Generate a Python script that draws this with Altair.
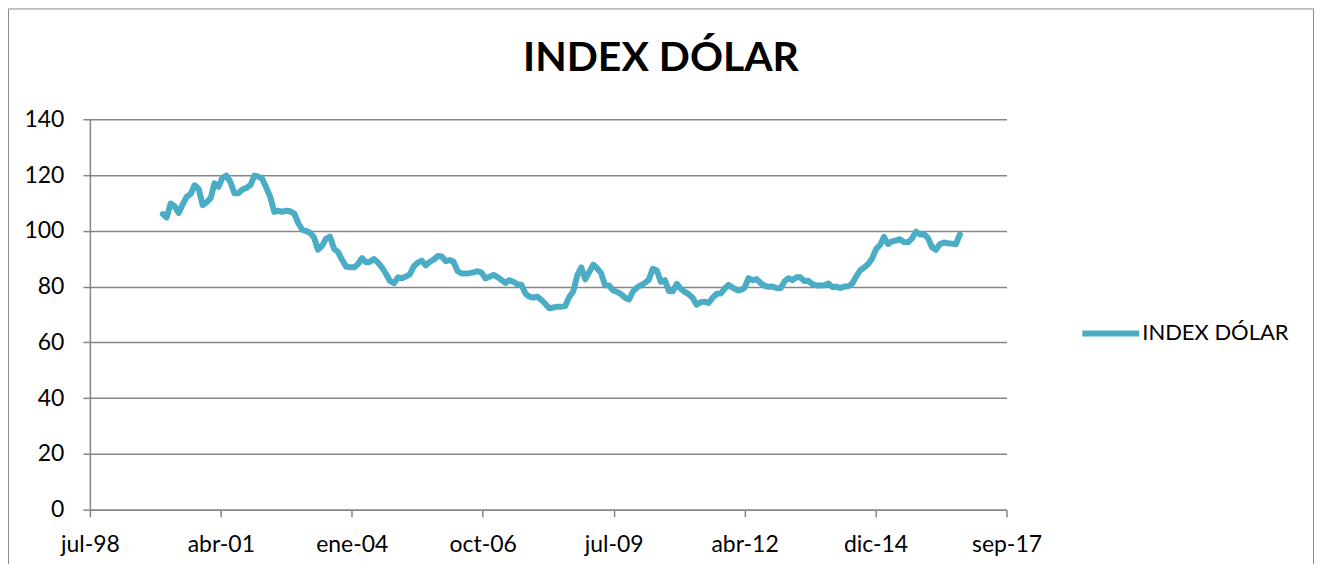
import altair as alt
import pandas as pd

# Monthly values of the index, from Feb-2000 onwards
START_MONTH = "2000-02-01"
values = [
    106.0, 104.8, 109.8, 108.8, 106.4, 109.4, 112.2, 113.2, 116.3, 115.0,
    109.2, 110.2, 111.8, 117.0, 115.8, 119.0, 119.8, 117.5, 113.5, 113.5,
    114.8, 115.4, 116.4, 119.8, 119.4, 118.6, 115.5, 112.2, 106.8, 107.2,
    106.8, 107.2, 107.0, 106.2, 102.8, 100.4, 99.9, 99.3, 97.6, 93.2,
    94.6, 97.1, 97.9, 93.5, 92.4, 89.6, 87.2, 86.9, 86.9, 88.0,
    90.2, 88.7, 88.9, 89.9, 88.6, 86.8, 84.6, 82.0, 81.2, 83.3,
    83.0, 83.6, 84.4, 87.2, 88.6, 89.3, 87.6, 88.9, 89.7, 91.0,
    90.8, 89.1, 89.5, 88.9, 85.6, 84.7, 84.7, 84.8, 85.1, 85.5,
    85.0, 82.9, 83.5, 84.2, 83.4, 82.4, 81.3, 82.3, 81.7, 80.8,
    80.7, 77.5, 76.4, 76.0, 76.4, 75.2, 73.8, 72.2, 72.5, 72.8,
    72.8, 73.0, 76.3, 78.3, 84.0, 86.9, 82.6, 85.2, 87.9, 86.6,
    84.8, 80.5, 80.4, 78.6, 78.1, 77.3, 76.0, 75.4, 78.3, 79.7,
    80.5, 81.3, 82.5, 86.4, 85.8, 81.7, 82.3, 78.4, 78.3, 81.0,
    79.2, 78.1, 77.2, 76.0, 73.5, 74.4, 74.6, 74.1, 76.0, 77.4,
    77.5, 79.3, 80.6, 79.6, 78.8, 78.7, 79.5, 83.0, 82.3, 82.7,
    81.3, 80.3, 79.9, 80.0, 79.5, 79.4, 81.9, 83.0, 82.3, 83.3,
    83.3, 82.0, 82.1, 80.8, 80.4, 80.4, 80.5, 81.1, 79.8, 80.0,
    79.5, 80.0, 80.1, 81.0, 83.6, 85.8, 86.9, 88.1, 90.1, 93.5,
    95.0, 97.8, 95.3, 96.2, 96.5, 97.0, 96.0, 95.9, 97.2, 99.7,
    98.7, 98.8, 97.4, 94.2, 93.2, 95.2, 95.8, 95.5, 95.4, 95.2,
    98.7,
]
SERIES = "INDEX DÓLAR"
Y_TICKS = [0, 20, 40, 60, 80, 100, 120, 140]
# x-axis ticks (every 1000 days, as in the original spreadsheet axis)
X_TICKS = [(1998, 7, 24), (2001, 4, 19), (2004, 1, 14), (2006, 10, 10),
           (2009, 7, 6), (2012, 4, 1), (2014, 12, 27), (2017, 9, 22)]
MONTHS_ES = ["ene", "feb", "mar", "abr", "may", "jun",
             "jul", "ago", "sep", "oct", "nov", "dic"]

df = pd.DataFrame({
    "fecha": pd.date_range(START_MONTH, periods=len(values), freq="MS"),
    "valor": values,
    "serie": SERIES,
})

W, H = 918, 391
PAD_L, PAD_T, PAD_R, PAD_B = 82, 111, 309, 54
GRID = "#868686"
LINE = "#4BACC6"
FONT = "Lato"

tick_dt = [alt.DateTime(year=y, month=m, date=d) for (y, m, d) in X_TICKS]
month_arr = "[" + ",".join("'%s'" % m for m in MONTHS_ES) + "]"

line = alt.Chart(df).mark_line(
    strokeWidth=6, strokeCap="round", strokeJoin="round"
).encode(
    x=alt.X("fecha:T",
            scale=alt.Scale(domain=[tick_dt[0], tick_dt[-1]], nice=False),
            axis=alt.Axis(values=tick_dt, title=None, grid=False,
                          labelExpr=month_arr + "[month(datum.value)] + '-' + timeFormat(datum.value, '%y')",
                          labelFlush=False, labelOverlap=False,
                          tickSize=7, labelPadding=17)),
    y=alt.Y("valor:Q",
            scale=alt.Scale(domain=[0, 140], nice=False, zero=True),
            axis=alt.Axis(values=Y_TICKS, title=None, grid=True,
                          tickSize=7, labelPadding=19)),
    color=alt.Color("serie:N",
                    scale=alt.Scale(range=[LINE]),
                    legend=alt.Legend(title=None, orient="none",
                                      legendX=991, legendY=183,
                                      symbolType="stroke", symbolSize=3249,
                                      symbolStrokeWidth=6,
                                      labelFont=FONT, labelFontSize=22,
                                      labelColor="black", labelOffset=0,
                                      padding=0, symbolOffset=0)),
)

frame = alt.Chart(alt.Data(values=[{"a": 1}])).mark_rect(
    fill="transparent", stroke="#8a8a8a", strokeWidth=1
).encode(
    x=alt.value(-PAD_L + 0.5), x2=alt.value(W + PAD_R - 1.5),
    y=alt.value(-PAD_T + 0.5), y2=alt.value(H + PAD_B + 40),
)

chart = alt.layer(frame, line).properties(
    width=W, height=H,
    padding={"left": PAD_L, "top": PAD_T, "right": PAD_R, "bottom": PAD_B},
    autosize=alt.AutoSizeParams(type="none"),
    title=alt.TitleParams(SERIES, font=FONT, fontSize=41, fontWeight="bold",
                          color="black", anchor="middle", dx=113, offset=-72),
).configure_view(stroke=None).configure_axis(
    domainColor=GRID, tickColor=GRID, gridColor=GRID,
    domainWidth=1.5, tickWidth=1.5, gridWidth=1.5,
    labelFont=FONT, labelFontSize=23, labelColor="black",
)

chart.save("out.html", embed_options={"renderer": "svg", "actions": False})
